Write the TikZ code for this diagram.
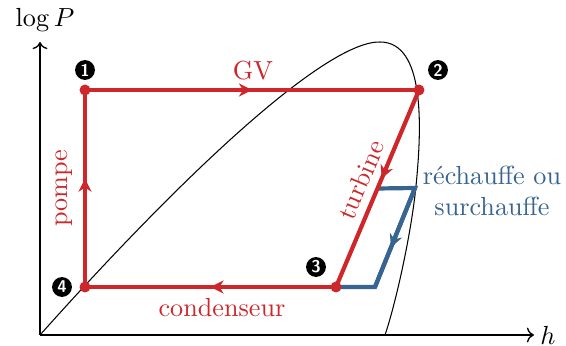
\documentclass[tikz,border=0pt]{standalone}
\usepackage{amsmath}
\usepackage{xcolor}
\usetikzlibrary{arrows.meta,decorations.markings,calc}
\definecolor{cyclered}{RGB}{205,38,43}
\definecolor{reheatblue}{RGB}{55,100,145}
\tikzset{
  cycleline/.style={line width=1.6pt,cyclered},
  reheatline/.style={line width=1.6pt,reheatblue},
  midarrow/.style={postaction={decorate},
    decoration={markings,mark=at position #1 with
      {\arrow{Stealth[length=5pt,width=5pt,inset=1.6pt]}}}},
  midarrow/.default=0.55,
  state/.style={circle,fill=cyclered,inner sep=0pt,minimum size=4.2pt},
  statenum/.style={circle,fill=black,text=white,inner sep=0pt,
    minimum size=7.6pt,font=\sffamily\bfseries\fontsize{6.5}{6.5}\selectfont},
}

\begin{document}
\begin{tikzpicture}[x=0.382pt,y=0.382pt]
  \useasboundingbox (0,0) rectangle (566,346);

  % Axes
  \coordinate (O) at (40,11);
  \coordinate (Ytop) at (40,304);
  \coordinate (Xend) at (534,11);
  \draw[->,line width=0.5pt] (O) -- (Ytop);
  \draw[->,line width=0.5pt] (O) -- (Xend);
  \node[inner sep=0pt] (ylab) at (45,326) {$\log P$};
  \node[inner sep=0pt] (xlab) at (548,11) {$h$};

  % Saturation dome
  \draw[line width=0.4pt] (O) .. controls (200,190) and (330,305) .. (380,304)
    .. controls (425,304) and (422,220) .. (416,160)
    .. controls (411,110) and (395,40) .. (385,11);

  % Cycle states
  \coordinate (P1) at (85,256);
  \coordinate (P2) at (419,256);
  \coordinate (P3) at (336,59);
  \coordinate (P4) at (85,59);
  % Reheat branch
  \coordinate (B1) at ($(P2)!0.5!(P3)$);
  \coordinate (B2) at (415,158);
  \coordinate (B3) at (375,59);

  \draw[reheatline,line join=miter] (B1) -- (B2) -- (B3) -- (P3);
  \draw[reheatline,midarrow=0.6] (B2) -- (B3);

  \draw[cycleline,midarrow=0.5] (P1) -- (P2);
  \draw[cycleline,midarrow=0.45] (P2) -- (P3);
  \draw[cycleline,midarrow=0.5] (P3) -- (P4);
  \draw[cycleline,midarrow=0.55] (P4) -- (P1);

  \foreach \p in {P1,P2,P3,P4}
    \node[state] (d\p) at (\p) {};

  % State numbers
  \node[statenum] (n1) at (85,276) {1};
  \node[statenum] (n2) at (438,276) {2};
  \node[statenum] (n3) at (316,79) {3};
  \node[statenum] (n4) at (62,59) {4};

  % Labels
  \node[cyclered] (gv) at (253,275) {GV};
  \node[cyclered,rotate=90] (pompe) at (64,158) {pompe};
  \node[cyclered,rotate=67] (turbine) at (361,166) {turbine};
  \node[cyclered] (cond) at (222,38) {condenseur};
  \node[reheatblue,align=center] (reheat) at (492,155)
    {réchauffe ou\\surchauffe};
\end{tikzpicture}
\end{document}
